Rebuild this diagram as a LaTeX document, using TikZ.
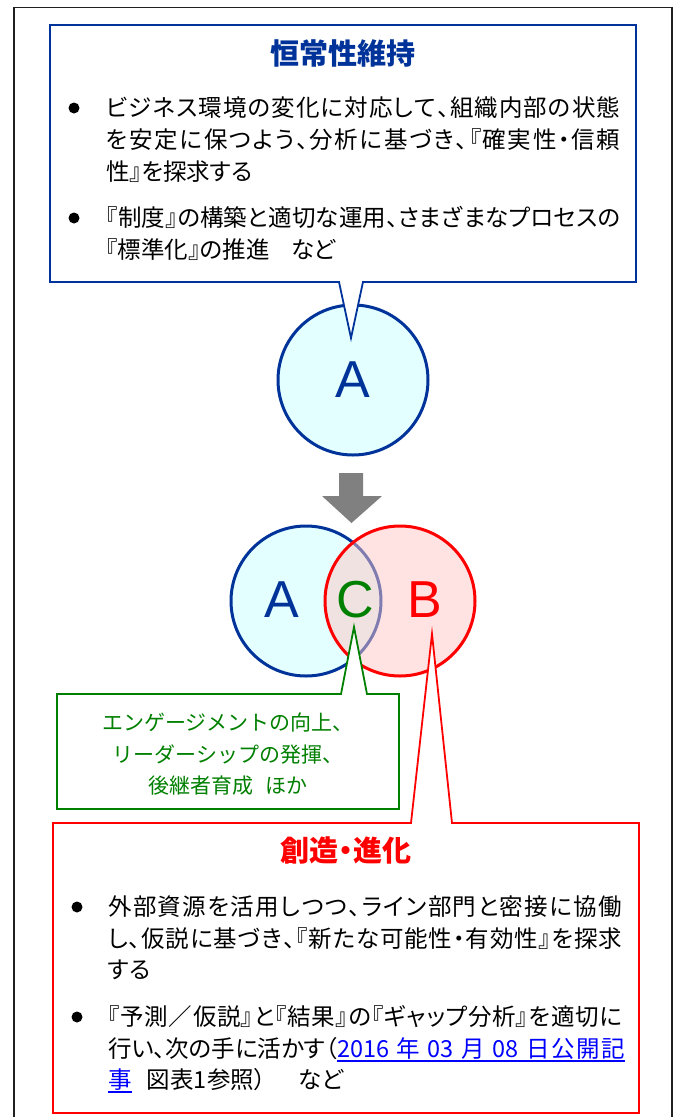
\documentclass[tikz,border=0pt]{standalone}
\usepackage{fontspec}
\setmainfont{Liberation Sans}
\newfontfamily\jp[RawFeature=+palt]{Noto Sans CJK JP}
\newfontfamily\jpw{Noto Sans CJK JP}
\definecolor{dblue}{HTML}{003399}
\definecolor{cyanF}{HTML}{E3FFFF}
\definecolor{pinkF}{HTML}{FFC6C6}
\definecolor{dgreen}{HTML}{008000}
\definecolor{arrowgrey}{HTML}{808080}
\definecolor{linkblue}{HTML}{0000FF}
\definecolor{framegrey}{HTML}{202020}
\makeatletter
\newcommand\spreadchars[1]{\sc@first#1\@nil}
\def\sc@first#1{#1\sc@loop}
\def\sc@loop#1{\ifx#1\@nil\else\hskip 0pt plus 1fil\relax#1\expandafter\sc@loop\fi}
\makeatother
\newcommand\fullline[1]{\hbox to 514pt{\spreadchars{#1}}}
\newcommand\lnk[1]{\setbox0\hbox{#1}\rlap{\smash{\vrule height -3pt depth 5pt width \wd0}}\box0}
\begin{document}
\begin{tikzpicture}[x=1pt,y=-1pt,
  frame/.style={draw=framegrey, line width=1.5pt},
  bluebox/.style={draw=dblue, fill=white, line width=1.8pt, line join=miter},
  greenbox/.style={draw=dgreen, fill=white, line width=1.8pt, line join=miter},
  redbox/.style={draw=red, fill=white, line width=1.8pt, line join=miter},
  circA/.style={circle, draw=dblue, fill=cyanF, line width=3pt, minimum size=150pt, inner sep=0pt},
  circB/.style={circle, draw=red, fill=pinkF, fill opacity=0.5, draw opacity=1, text opacity=1, line width=3pt, minimum size=150pt, inner sep=0pt},
  letter/.style={inner sep=0pt, font=\fontsize{52}{52}\selectfont},
  jtext/.style={anchor=base west, inner sep=0pt, font=\jp\fontsize{23.5}{26}\selectfont},
  title/.style={inner sep=0pt, font=\jp\bfseries\fontsize{29}{32}\selectfont},
  gtext/.style={inner sep=0pt, text=dgreen, font=\jpw\fontsize{21}{24}\selectfont},
  bullet/.style={circle, fill=black, minimum size=11pt, inner sep=0pt},
]
\useasboundingbox (0,0) rectangle (677,1117);
\clip (0,0) rectangle (677,1117);

% outer frame
\draw[frame] (14,7.5) rectangle (672,1140);

% top circle A
\node[circA, letter, text=dblue] (topA) at (353,380) {A};

% blue callout
\coordinate (blueTip) at (351,338);
\draw[bluebox] (50,25) -- (636,25) -- (636,282) -- (363,282) -- (blueTip) -- (339,282) -- (50,282) -- cycle;

% grey arrow
\fill[arrowgrey] (339,473) -- (363,473) -- (363,496) -- (382,496) -- (351.5,523) -- (322,496) -- (339,496) -- cycle;

% Venn circles
\node[circA] (vennA) at (306,601) {};
\node[circB] (vennB) at (400,601) {};
\node[letter, text=dblue] (labA) at (282,600) {A};
\node[letter, text=dgreen] (labC) at (355,600) {C};
\node[letter, text=red] (labB) at (425,600) {B};

% green callout
\coordinate (greenTip) at (354,627);
\draw[greenbox] (57,694) -- (341,694) -- (greenTip) -- (367,694) -- (399,694) -- (399,809) -- (57,809) -- cycle;

% red callout
\coordinate (redTip) at (432,634);
\draw[redbox] (53,823) -- (411,823) -- (redTip) -- (452,823) -- (639,823) -- (639,1113) -- (53,1113) -- cycle;

% blue box texts
\node[title, text=dblue] (titleBlue) at (343,53) {恒常性維持};
\node[bullet] (bu1) at (74,108) {};
\node[jtext] (b1l1) at (106,116) {\fullline{ビジネス環境の変化に対応して、組織内部の状態}};
\node[jtext] (b1l2) at (106,148) {\fullline{を安定に保つよう、分析に基づき、『確実性・信頼}};
\node[jtext] (b1l3) at (106,180) {性』を探求する};
\node[bullet] (bu2) at (74,218) {};
\node[jtext] (b2l1) at (106,226) {\fullline{『制度』の構築と適切な運用、さまざまなプロセスの}};
\node[jtext] (b2l2) at (106,258) {『標準化』の推進\hspace{0.9em}など};

% green texts
\node[gtext] (g1) at (228,722) {エンゲージメントの向上、};
\node[gtext] (g2) at (228,754) {リーダーシップの発揮、};
\node[gtext] (g3) at (228,786) {後継者育成\hspace{0.6em}ほか};

% red box texts
\node[title, text=red] (titleRed) at (346,850) {創造・進化};
\node[bullet] (bu3) at (77,907) {};
\node[jtext] (r1l1) at (108,915) {\fullline{外部資源を活用しつつ、ライン部門と密接に協働}};
\node[jtext] (r1l2) at (108,947) {\fullline{し、仮説に基づき、『新たな可能性・有効性』を探求}};
\node[jtext] (r1l3) at (108,978) {する};
\node[bullet] (bu4) at (77,1017) {};
\node[jtext] (r2l1) at (108,1025) {\fullline{『予測／仮説』と『結果』の『ギャップ分析』を適切に}};
\node[jtext] (r2l2) at (108,1057) {\hbox to 514pt{\spreadchars{行い、次の手に活かす（}\textcolor{linkblue}{\lnk{\hbox to 288pt{2016\hskip 0.25em plus 1fil 年\hskip 0.25em plus 1fil 03\hskip 0.25em plus 1fil 月\hskip 0.25em plus 1fil 08\hskip 0.25em plus 1fil 日\hskip 0pt plus 1fil 公\hskip 0pt plus 1fil 開\hskip 0pt plus 1fil 記}}}}};
\node[jtext] (r2l3) at (108,1088) {\textcolor{linkblue}{\lnk{事}}\hspace{0.65em}図表1参照）\hspace{1.4em}など};
\end{tikzpicture}
\end{document}
